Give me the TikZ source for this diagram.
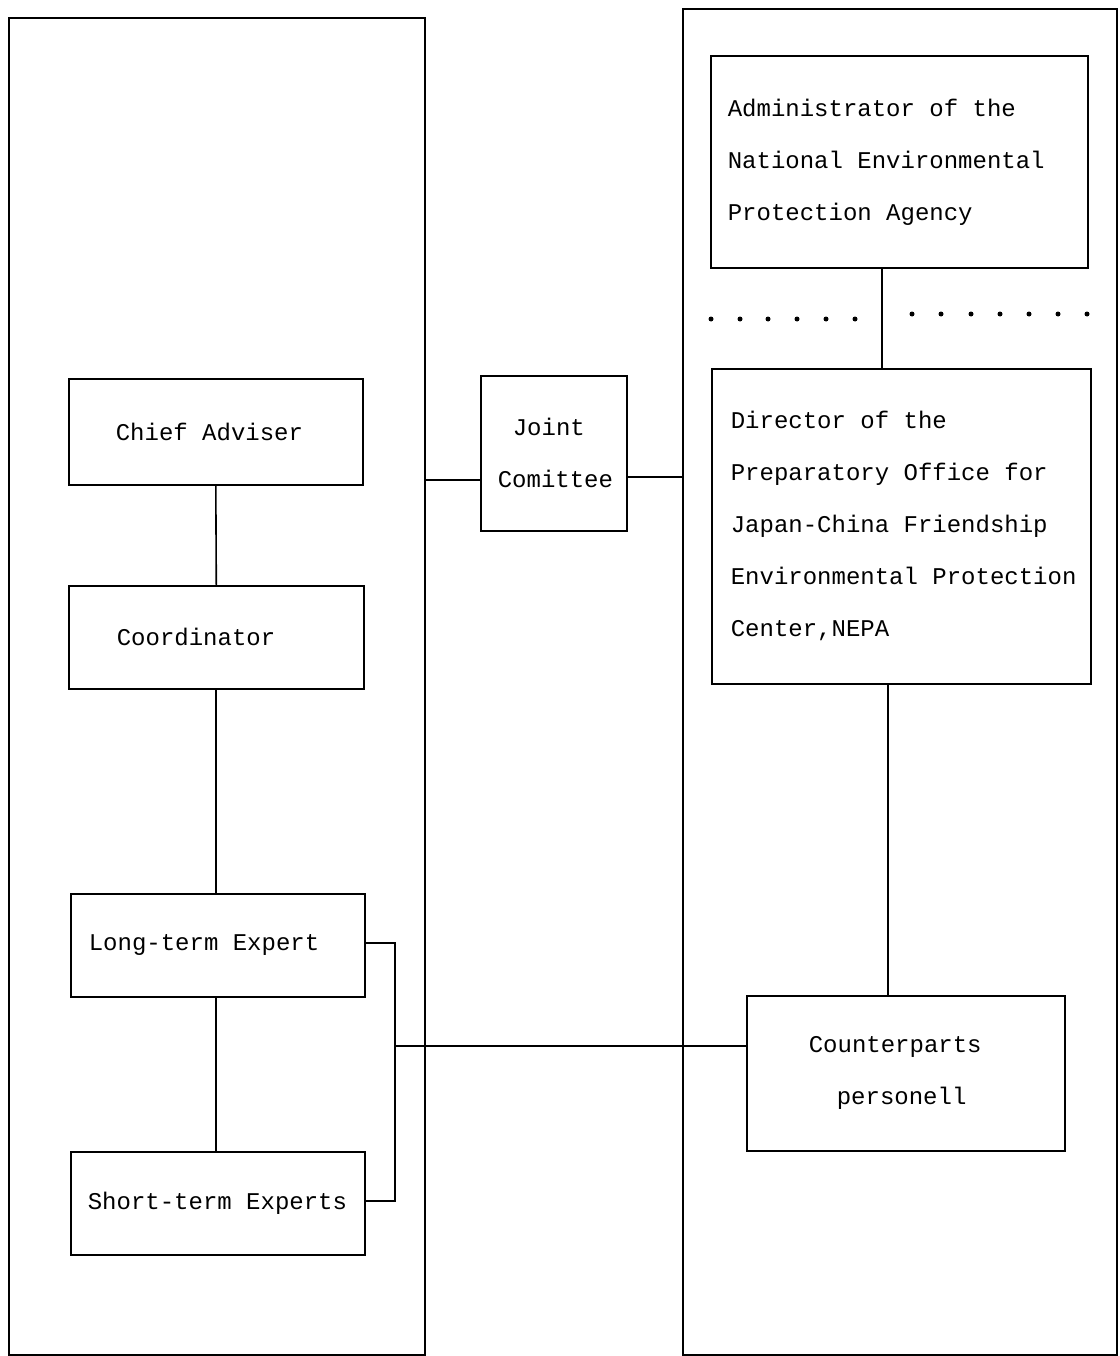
\documentclass[tikz,border=0pt]{standalone}
\usepackage{fontspec}
\setmainfont{Liberation Mono}
\newcommand{\msp}{\hspace*{14.4pt}}
\begin{document}
\begin{tikzpicture}[x=1pt,y=-1pt,
  every node/.style={font=\fontsize{24}{52}\selectfont},
  frame/.style={draw, line width=1.6pt, anchor=north west, inner sep=0pt},
  box/.style={draw, line width=1.6pt, anchor=north west, inner ysep=0pt, align=left},
  link/.style={line width=1.6pt},
  dot/.style={fill, circle, inner sep=0pt, minimum size=5pt}]
\useasboundingbox (0,0) rectangle (1119,1356);
% containers
\node[frame, minimum width=416, minimum height=1337] (jp) at (8,17) {};
\node[frame, minimum width=434, minimum height=1346] (cn) at (682,8) {};
% Japan side
\node[box, minimum height=106, inner xsep=47, text width=200] (chief) at (68,378) {Chief\msp Adviser};
\node[box, minimum height=103, inner xsep=48, text width=199] (coord) at (68,585) {Coordinator};
\node[box, minimum height=103, inner xsep=18, text width=258] (long) at (70,893) {Long-term\msp Expert};
\node[box, minimum height=103, inner xsep=17, text width=260] (short) at (70,1151) {Short-term\msp Experts};
% joint committee
\node[box, minimum height=155, inner xsep=17, text width=112] (joint) at (480,375) {\hspace*{15pt}Joint\\Comittee};
% China side
\node[box, minimum height=212, inner xsep=17, text width=343] (adm) at (710,55) {Administrator\msp of\msp the\\National\msp Environmental\\Protection\msp Agency};
\node[box, minimum height=315, inner xsep=19, text width=341] (dir) at (711,368) {Director\msp of\msp the\\Preparatory\msp Office\msp for\\Japan-China\msp Friendship\\\mbox{Environmental\msp Protection}\\Center,NEPA};
\node[box, minimum height=155, inner xsep=62, text width=194] (cp) at (746,995) {Counterparts\\\hspace*{28pt}personell};
% dotted divider
\foreach \x [count=\i] in {711,740,768,797,826,855} \node[dot] (dl\i) at (\x,319) {};
\foreach \x [count=\i] in {912,941,971,1000,1029,1058,1087} \node[dot] (dr\i) at (\x,314) {};
% connectors
\draw[link] (chief.south) -- (coord.north);
\draw[link] (coord.south -| 216,0) -- (long.north -| 216,0);
\draw[link] (long.south -| 216,0) -- (short.north -| 216,0);
\draw[link] (joint.west |- 0,480) -- (jp.east |- 0,480);
\draw[link] (joint.east |- 0,477) -- (cn.west |- 0,477);
\draw[link] (adm.south -| 882,0) -- (dir.north -| 882,0);
\draw[link] (dir.south -| 888,0) -- (cp.north -| 888,0);
\coordinate (br) at (395,1046);
\draw[link] (long.east |- 0,943) -| (br) |- (short.east |- 0,1201);
\draw[link] (br) -- (cp.west |- br);
\end{tikzpicture}
\end{document}
